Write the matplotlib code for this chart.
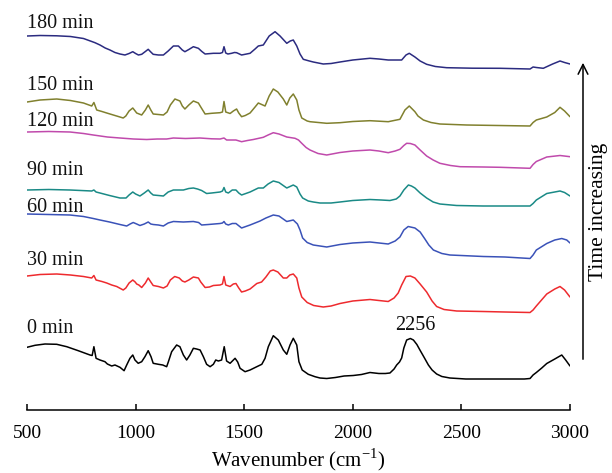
import matplotlib
matplotlib.use("Agg")
import matplotlib.pyplot as plt

plt.rcParams['font.family'] = ['Liberation Serif', 'DejaVu Serif']
plt.rcParams['mathtext.fontset'] = 'custom'
plt.rcParams['mathtext.rm'] = 'Liberation Serif'

labels = ["0 min", "30 min", "60 min", "90 min", "120 min", "150 min", "180 min"]
colors = ["#000000", "#ee2a2e", "#3a52b8", "#1a8a86", "#c04aac", "#80802e", "#2b2b80"]

# (wavenumber cm^-1, stacked intensity a.u.)
spec_0 = [(500, 0.627), (537, 0.647), (583, 0.66), (637, 0.657), (683, 0.633), (736, 0.593), (790, 0.55),
          (800, 0.545), (808, 0.633), (818, 0.517), (836, 0.50), (859, 0.483), (870, 0.46), (890, 0.44),
          (905, 0.45), (928, 0.427), (947, 0.393), (959, 0.45), (974, 0.517), (987, 0.55), (997, 0.50),
          (1012, 0.467), (1028, 0.483), (1043, 0.533), (1058, 0.593), (1071, 0.533), (1081, 0.467),
          (1105, 0.457), (1125, 0.45), (1143, 0.433), (1151, 0.483), (1166, 0.583), (1189, 0.65),
          (1204, 0.633), (1220, 0.55), (1235, 0.50), (1250, 0.55), (1266, 0.617), (1281, 0.61), (1297, 0.60),
          (1312, 0.533), (1327, 0.457), (1343, 0.433), (1358, 0.457), (1369, 0.50), (1381, 0.49), (1396, 0.50),
          (1408, 0.633), (1419, 0.49), (1435, 0.467), (1458, 0.517), (1470, 0.48), (1481, 0.417), (1504, 0.383),
          (1527, 0.40), (1558, 0.433), (1581, 0.457), (1596, 0.517), (1611, 0.633), (1634, 0.743), (1657, 0.70),
          (1680, 0.60), (1696, 0.557), (1711, 0.65), (1726, 0.717), (1742, 0.65), (1752, 0.483), (1767, 0.40),
          (1795, 0.357), (1826, 0.333), (1849, 0.32), (1880, 0.315), (1920, 0.325), (1960, 0.34), (2002, 0.345),
          (2040, 0.355), (2079, 0.375), (2120, 0.365), (2150, 0.365), (2171, 0.37), (2190, 0.41), (2202, 0.45),
          (2215, 0.48), (2225, 0.52), (2235, 0.62), (2248, 0.70), (2265, 0.715), (2279, 0.70), (2295, 0.655),
          (2309, 0.60), (2330, 0.52), (2348, 0.45), (2365, 0.40), (2386, 0.36), (2410, 0.335), (2447, 0.32),
          (2520, 0.31), (2601, 0.31), (2700, 0.31), (2790, 0.31), (2816, 0.315), (2830, 0.35), (2845, 0.375),
          (2870, 0.42), (2893, 0.465), (2930, 0.51), (2962, 0.55), (2980, 0.50), (3000, 0.44)]

spec_30 = [(500, 1.34), (560, 1.355), (637, 1.36), (700, 1.35), (760, 1.335), (798, 1.32), (808, 1.345),
           (818, 1.30), (845, 1.285), (867, 1.27), (890, 1.25), (913, 1.235), (943, 1.20), (955, 1.22),
           (970, 1.27), (987, 1.30), (998, 1.28), (1005, 1.26), (1015, 1.25), (1028, 1.225), (1045, 1.27),
           (1058, 1.32), (1070, 1.28), (1081, 1.245), (1105, 1.235), (1128, 1.22), (1145, 1.24), (1160, 1.30),
           (1180, 1.335), (1201, 1.32), (1215, 1.29), (1227, 1.28), (1245, 1.30), (1266, 1.33), (1289, 1.32),
           (1300, 1.28), (1320, 1.225), (1340, 1.23), (1358, 1.245), (1389, 1.25), (1400, 1.26), (1407, 1.335),
           (1415, 1.25), (1435, 1.235), (1450, 1.26), (1462, 1.265), (1475, 1.22), (1488, 1.18), (1505, 1.19),
           (1527, 1.21), (1558, 1.265), (1580, 1.28), (1600, 1.33), (1620, 1.39), (1634, 1.40), (1655, 1.38),
           (1680, 1.32), (1696, 1.32), (1710, 1.35), (1726, 1.36), (1742, 1.32), (1752, 1.22), (1765, 1.13),
           (1790, 1.075), (1820, 1.045), (1864, 1.03), (1900, 1.04), (1941, 1.065), (2000, 1.09), (2079, 1.105),
           (2120, 1.095), (2163, 1.085), (2190, 1.12), (2209, 1.17), (2225, 1.25), (2245, 1.335), (2265, 1.34),
           (2286, 1.32), (2310, 1.26), (2340, 1.18), (2365, 1.09), (2386, 1.035), (2420, 1.005), (2478, 0.99),
           (2600, 0.985), (2700, 0.98), (2816, 0.975), (2830, 1.00), (2845, 1.04), (2893, 1.16), (2930, 1.21),
           (2954, 1.235), (2975, 1.20), (3000, 1.13)]

spec_60 = [(500, 1.96), (600, 1.955), (698, 1.95), (760, 1.935), (805, 1.915), (836, 1.90), (880, 1.88),
           (928, 1.855), (959, 1.84), (975, 1.86), (989, 1.875), (1005, 1.86), (1020, 1.845), (1040, 1.86),
           (1058, 1.88), (1070, 1.86), (1081, 1.855), (1105, 1.85), (1128, 1.84), (1150, 1.87), (1174, 1.885),
           (1220, 1.88), (1266, 1.885), (1290, 1.875), (1304, 1.85), (1335, 1.855), (1389, 1.865), (1400, 1.87),
           (1407, 1.885), (1415, 1.86), (1427, 1.85), (1445, 1.865), (1462, 1.865), (1488, 1.82), (1527, 1.85),
           (1550, 1.87), (1573, 1.89), (1600, 1.92), (1634, 1.95), (1660, 1.94), (1696, 1.885), (1726, 1.90),
           (1745, 1.86), (1757, 1.80), (1769, 1.72), (1790, 1.675), (1818, 1.65), (1880, 1.63), (1941, 1.655),
           (2000, 1.67), (2079, 1.68), (2163, 1.66), (2195, 1.69), (2217, 1.73), (2235, 1.80), (2255, 1.835),
           (2286, 1.82), (2310, 1.78), (2332, 1.71), (2350, 1.65), (2371, 1.60), (2410, 1.565), (2447, 1.55),
           (2601, 1.535), (2700, 1.53), (2816, 1.515), (2830, 1.55), (2845, 1.60), (2893, 1.665), (2930, 1.70),
           (2962, 1.715), (2985, 1.70), (3000, 1.67)]

spec_90 = [(500, 2.20), (600, 2.205), (698, 2.20), (798, 2.19), (808, 2.20), (818, 2.18), (836, 2.17),
           (880, 2.145), (928, 2.12), (956, 2.12), (970, 2.15), (987, 2.18), (1000, 2.16), (1020, 2.14),
           (1040, 2.17), (1058, 2.20), (1070, 2.17), (1081, 2.15), (1105, 2.145), (1128, 2.14), (1150, 2.18),
           (1174, 2.20), (1220, 2.20), (1245, 2.215), (1266, 2.22), (1285, 2.21), (1304, 2.195), (1327, 2.165),
           (1350, 2.17), (1389, 2.18), (1400, 2.19), (1407, 2.225), (1415, 2.18), (1427, 2.17), (1445, 2.20),
           (1462, 2.20), (1475, 2.17), (1488, 2.15), (1527, 2.18), (1565, 2.22), (1588, 2.22), (1610, 2.26),
           (1634, 2.29), (1660, 2.275), (1696, 2.22), (1726, 2.25), (1742, 2.23), (1757, 2.16), (1769, 2.12),
           (1795, 2.09), (1818, 2.08), (1849, 2.07), (1900, 2.07), (1941, 2.08), (2000, 2.095), (2079, 2.105),
           (2130, 2.10), (2171, 2.095), (2200, 2.11), (2217, 2.14), (2235, 2.20), (2256, 2.25), (2270, 2.24),
           (2286, 2.22), (2310, 2.17), (2340, 2.12), (2370, 2.08), (2401, 2.06), (2478, 2.045), (2600, 2.04),
           (2816, 2.04), (2830, 2.065), (2845, 2.10), (2893, 2.165), (2954, 2.19), (2975, 2.175), (3000, 2.14)]

spec_120 = [(500, 2.78), (600, 2.785), (698, 2.78), (760, 2.765), (805, 2.75), (870, 2.73), (928, 2.72),
            (990, 2.71), (1051, 2.705), (1100, 2.71), (1143, 2.71), (1174, 2.72), (1230, 2.715), (1296, 2.72),
            (1350, 2.712), (1389, 2.71), (1407, 2.72), (1419, 2.70), (1462, 2.70), (1488, 2.683), (1515, 2.695),
            (1542, 2.705), (1588, 2.727), (1610, 2.75), (1634, 2.773), (1660, 2.76), (1696, 2.73), (1734, 2.717),
            (1750, 2.70), (1765, 2.667), (1785, 2.625), (1803, 2.60), (1840, 2.565), (1880, 2.55), (1941, 2.575),
            (2000, 2.59), (2079, 2.60), (2120, 2.59), (2163, 2.573), (2195, 2.59), (2217, 2.607), (2235, 2.645),
            (2248, 2.667), (2265, 2.665), (2286, 2.65), (2310, 2.60), (2340, 2.54), (2370, 2.50), (2401, 2.467),
            (2450, 2.445), (2494, 2.433), (2600, 2.43), (2678, 2.427), (2816, 2.417), (2830, 2.455), (2845, 2.485),
            (2893, 2.53), (2954, 2.545), (3000, 2.533)]

spec_150 = [(500, 3.08), (560, 3.10), (637, 3.11), (700, 3.095), (760, 3.07), (798, 3.04), (808, 3.075),
            (821, 3.00), (845, 2.985), (867, 2.97), (905, 2.945), (943, 2.92), (955, 2.94), (970, 2.99),
            (987, 3.02), (998, 2.99), (1005, 2.97), (1028, 2.95), (1045, 3.00), (1058, 3.05), (1070, 3.00),
            (1081, 2.96), (1105, 2.955), (1128, 2.95), (1145, 2.98), (1160, 3.05), (1181, 3.11), (1204, 3.09),
            (1215, 3.04), (1227, 3.01), (1245, 3.05), (1266, 3.09), (1289, 3.07), (1300, 3.03), (1320, 2.96),
            (1350, 2.967), (1389, 2.973), (1400, 2.98), (1407, 3.085), (1415, 2.98), (1435, 2.965), (1450, 2.99),
            (1465, 3.01), (1475, 2.97), (1488, 2.933), (1505, 2.945), (1527, 2.97), (1550, 3.03), (1565, 3.07),
            (1596, 3.04), (1615, 3.14), (1634, 3.21), (1655, 3.18), (1680, 3.11), (1696, 3.05), (1710, 3.12),
            (1726, 3.16), (1742, 3.10), (1752, 3.00), (1765, 2.92), (1790, 2.89), (1803, 2.883), (1880, 2.867),
            (1941, 2.873), (2000, 2.885), (2079, 2.893), (2163, 2.883), (2217, 2.907), (2240, 3.00), (2260, 3.04),
            (2286, 2.983), (2300, 2.94), (2325, 2.90), (2360, 2.875), (2401, 2.86), (2524, 2.85), (2816, 2.84),
            (2830, 2.875), (2845, 2.90), (2893, 2.93), (2930, 2.975), (2954, 3.027), (2975, 2.99), (3000, 2.933)]

spec_180 = [(500, 3.74), (560, 3.745), (637, 3.742), (700, 3.735), (760, 3.715), (798, 3.685), (813, 3.673),
            (836, 3.65), (860, 3.62), (882, 3.60), (905, 3.575), (928, 3.56), (951, 3.55), (970, 3.565),
            (987, 3.583), (1000, 3.565), (1013, 3.55), (1028, 3.557), (1045, 3.585), (1058, 3.607), (1070, 3.58),
            (1081, 3.557), (1105, 3.55), (1128, 3.55), (1150, 3.59), (1174, 3.64), (1197, 3.64), (1215, 3.60),
            (1227, 3.583), (1245, 3.605), (1266, 3.633), (1289, 3.617), (1305, 3.585), (1320, 3.56), (1358, 3.567),
            (1389, 3.567), (1400, 3.575), (1407, 3.633), (1415, 3.57), (1425, 3.56), (1442, 3.567), (1455, 3.575),
            (1465, 3.573), (1488, 3.55), (1527, 3.567), (1550, 3.61), (1565, 3.64), (1588, 3.65), (1615, 3.74),
            (1642, 3.783), (1665, 3.74), (1696, 3.667), (1712, 3.69), (1726, 3.70), (1742, 3.64), (1757, 3.56),
            (1772, 3.507), (1800, 3.49), (1818, 3.48), (1864, 3.46), (1900, 3.465), (1941, 3.48), (2000, 3.50),
            (2079, 3.517), (2120, 3.51), (2163, 3.50), (2225, 3.50), (2245, 3.55), (2260, 3.567), (2286, 3.53),
            (2310, 3.49), (2340, 3.457), (2380, 3.435), (2432, 3.423), (2550, 3.418), (2678, 3.417), (2816, 3.41),
            (2830, 3.43), (2845, 3.425), (2877, 3.417), (2920, 3.46), (2954, 3.49), (2975, 3.475), (3000, 3.46)]

label_y = [0.77, 1.45, 1.98, 2.35, 2.84, 3.20, 3.82]
xticks = [500, 1000, 1500, 2000, 2500, 3000]
peak_label = "2256"

spectra = [spec_0, spec_30, spec_60, spec_90, spec_120, spec_150, spec_180]

W, H = 612, 473
fig = plt.figure(figsize=(W / 100, H / 100), dpi=100)
ax = fig.add_axes([27 / W, 63 / H, 543 / W, (H - 63) / H])

for spec, c in zip(spectra, colors):
    xs = [p[0] for p in spec]
    ys = [p[1] for p in spec]
    ax.plot(xs, ys, color=c, lw=1.1, solid_joinstyle='round', solid_capstyle='round')

for lab, ly in zip(labels, label_y):
    ax.text(502, ly, lab, fontsize=14.5, ha='left', va='baseline', color='#111111')

ax.text(2286, 0.80, peak_label, fontsize=14.5, ha='center', va='baseline', color='#111111')

ax.set_xlim(500, 3000)
ax.set_ylim(0, 4.10)
ax.set_xticks(xticks)
ax.set_yticks([])
for s in ['left', 'right', 'top']:
    ax.spines[s].set_visible(False)
ax.spines['bottom'].set_linewidth(1.1)
ax.tick_params(axis='x', direction='in', length=4.5, width=1.1, labelsize=14, pad=11)
ax.set_xlabel("Wavenumber (cm$^{-1}$)", fontsize=15, labelpad=3)

ax.annotate("", xy=(583 / W, 413 / H), xytext=(583 / W, 111 / H), xycoords='figure fraction',
            textcoords='figure fraction',
            arrowprops=dict(arrowstyle='->,head_length=0.7,head_width=0.35', lw=1.1, color='black'))
fig.text(599 / W, 261 / H, "Time increasing", rotation=90, fontsize=15.5, ha='center', va='center')

fig.savefig("out.png", dpi=100)
